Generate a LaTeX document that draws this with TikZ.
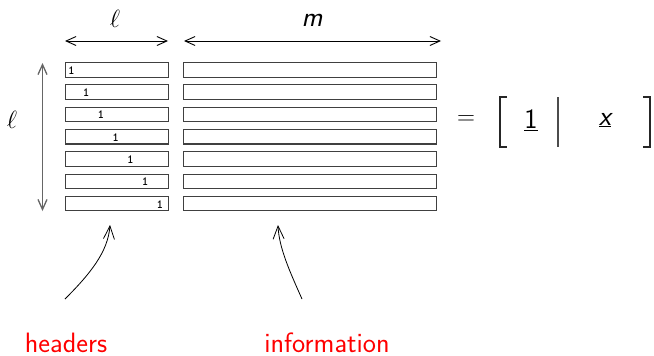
\documentclass[tikz,border=0pt]{standalone}
\usetikzlibrary{arrows.meta}
\begin{document}
\begin{tikzpicture}[x=1pt,y=-1pt,
  every node/.style={inner sep=0pt,font=\fontsize{28}{34}\selectfont\sffamily},
  rowbox/.style={draw=black!75,line width=1.1pt,minimum height=14.5pt,anchor=north west},
  one/.style={font=\fontsize{12.5}{13}\selectfont\ttfamily\bfseries},
  dim/.style={line width=0.9pt,{Straight Barb[length=10pt,width=9pt]}-{Straight Barb[length=10pt,width=9pt]}},
  pointer/.style={line width=0.8pt,-{Straight Barb[length=13pt,width=11pt]}},
  tag/.style={text=red}]
\useasboundingbox (0,0) rectangle (654,356);

% rows: header part and information part
\foreach \i in {1,...,7}{
  \pgfmathsetmacro{\top}{62+22.3*(\i-1)}
  \pgfmathsetmacro{\onex}{71.5+14.75*(\i-1)}
  \node[rowbox,minimum width=103pt] (h\i) at (65,\top) {};
  \node[rowbox,minimum width=253pt] (i\i) at (183,\top) {};
  \node[one] (o\i) at (\onex,\top+8.5) {1};
}

% dimension arrows and their labels
\coordinate (lA) at (65,41);
\coordinate (lB) at (168,41);
\coordinate (mA) at (184,41);
\coordinate (mB) at (441,41);
\draw[dim] (lA) -- (lB);
\draw[dim] (mA) -- (mB);
\node (ltop) at (115,19) {$\ell$};
\node (mtop) at (312,20) {\itshape m};

\coordinate (vA) at (42.5,63);
\coordinate (vB) at (42.5,211);
\draw[dim,draw=black!60,line width=1.3pt] (vA) -- (vB);
\node (lside) at (12,120) {$\ell$};

% matrix form
\node (eq) at (466,120) {$=$};
\node (one) at (531,120) {\underline{1}};
\node (xx) at (605,120) {\underline{\itshape x}};
\draw[line width=1.1pt,black!85] (507,97) -- (500,97) -- (500,147) -- (507,147);
\draw[line width=1.1pt,black!85] (643,97) -- (650,97) -- (650,147) -- (643,147);
\draw[line width=1.1pt,black!70] (558,97) -- (558,147);

% pointers and captions
\coordinate (hs) at (65,299);
\coordinate (he) at (110,225);
\coordinate (is) at (302,299);
\coordinate (ie) at (278,225);
\draw[pointer] (hs) .. controls (90,274) and (108,252) .. (he);
\draw[pointer] (is) .. controls (290,272) and (279,248) .. (ie);
\node[tag,anchor=base] (headers) at (66,352) {headers};
\node[tag,anchor=base] (information) at (327,352) {information};
\end{tikzpicture}
\end{document}
